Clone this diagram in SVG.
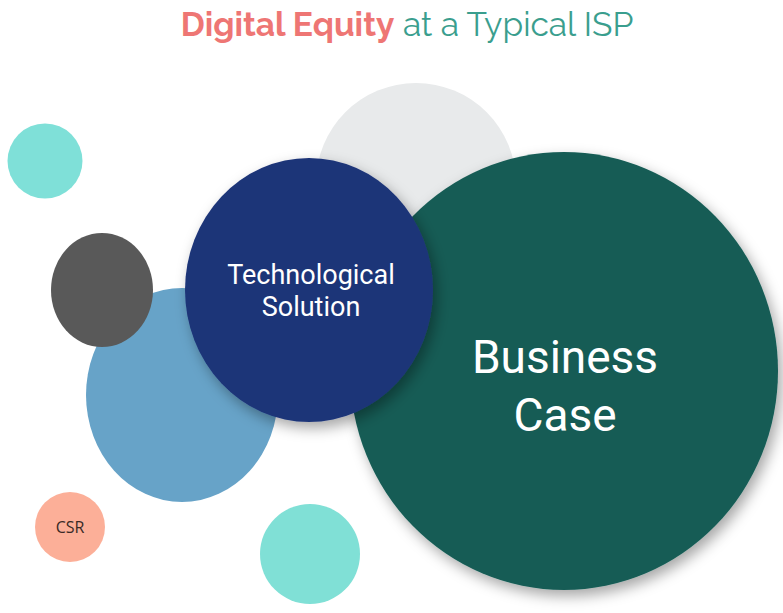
<svg xmlns="http://www.w3.org/2000/svg" width="783" height="613" viewBox="0 0 783 613">
<style>
.lbl{font-family:Roboto,"Liberation Sans",sans-serif;fill:#ffffff;text-anchor:middle}
</style>
<defs>
<filter id="sh" x="-20%" y="-20%" width="140%" height="140%">
<feDropShadow dx="4" dy="6" stdDeviation="7" flood-color="#000" flood-opacity="0.35"/>
</filter>
</defs>
<rect width="783" height="613" fill="#ffffff"/>
<text x="407" y="36" text-anchor="middle" font-family="Raleway,Lato,'Open Sans',sans-serif" font-size="33.5"><tspan fill="#ee7674" font-weight="bold">Digital Equity</tspan><tspan fill="#3a9e8e"> at a Typical ISP</tspan></text>
<g id="n-gray-top"><circle cx="416" cy="183" r="100" fill="#e8eaeb"/></g>
<g id="n-teal-1"><circle cx="45" cy="161" r="37.5" fill="#7fe0d8"/></g>
<g id="n-blue"><ellipse cx="182" cy="395" rx="96" ry="107" fill="#67a3c8"/></g>
<g id="n-dark"><ellipse cx="102" cy="290" rx="51" ry="57" fill="#595959"/></g>
<g id="n-business"><ellipse cx="564" cy="371" rx="214" ry="219" fill="#165c55" filter="url(#sh)"/>
<text class="lbl" x="565" y="373" font-size="46">Business</text>
<text class="lbl" x="565" y="431" font-size="46">Case</text></g>
<g id="n-tech"><ellipse cx="309" cy="290" rx="124" ry="132" fill="#1e3578" filter="url(#sh)"/>
<text class="lbl" x="311" y="284" font-size="27">Technological</text>
<text class="lbl" x="311" y="316" font-size="27">Solution</text></g>
<g id="n-csr"><circle cx="70" cy="527" r="35" fill="#fcaf98"/>
<text x="70" y="533" text-anchor="middle" font-family="'Open Sans','Liberation Sans',sans-serif" font-size="16" fill="#3a2a26">CSR</text></g>
<g id="n-teal-2"><circle cx="310" cy="554" r="50" fill="#80e0d6"/></g>
<g id="connectors"></g>
</svg>
